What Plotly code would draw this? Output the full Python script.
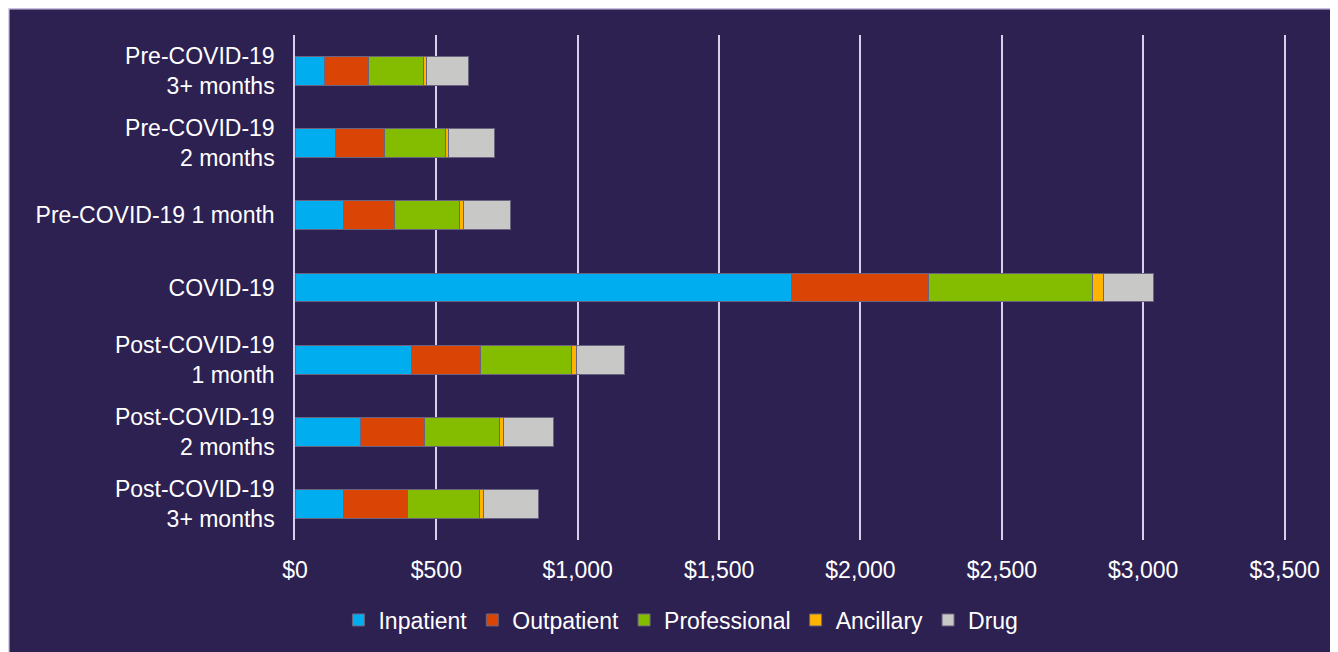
import plotly.graph_objects as go

categories = [
    "Pre-COVID-19<br>3+ months",
    "Pre-COVID-19<br>2 months",
    "Pre-COVID-19 1 month",
    "COVID-19",
    "Post-COVID-19<br>1 month",
    "Post-COVID-19<br>2 months",
    "Post-COVID-19<br>3+ months",
]

inpatient = [105, 143, 172, 1757, 411, 233, 172]
outpatient = [156, 174, 179, 484, 245, 224, 227]
professional = [193, 214, 231, 578, 321, 265, 253]
ancillary = [10, 11, 13, 41, 19, 17, 14]
drug = [151, 163, 167, 177, 168, 174, 196]

series = [
    ("Inpatient", inpatient, "#00AEEF"),
    ("Outpatient", outpatient, "#DA4505"),
    ("Professional", professional, "#84BC00"),
    ("Ancillary", ancillary, "#FFB500"),
    ("Drug", drug, "#C8C8C6"),
]

tick_vals = [0, 500, 1000, 1500, 2000, 2500, 3000, 3500]
tick_text = ["$0", "$500", "$1,000", "$1,500", "$2,000", "$2,500", "$3,000", "$3,500"]

BG = "#2D2152"
GRID = "#D8D0EA"
FONT = "Liberation Sans, Arial, sans-serif"

# page body has an 8px margin; figure fills the rest of the 1338x652 window
W, H = 1330, 644
L, R, T, B = 287, 50, 27, 112
pw = W - L - R
ph = H - T - B

fig = go.Figure()
for name, vals, color in series:
    fig.add_trace(go.Bar(
        y=categories, x=vals, name=name, orientation="h",
        marker=dict(color=color, line=dict(color="#6A6480", width=1)),
    ))

def px2x(px):
    return (px - L) / pw

def py2y(py):
    return (H - B - py) / ph

shapes = [
    dict(type="rect", xref="paper", yref="paper", x0=px2x(0), x1=px2x(W), y0=py2y(1.5), y1=py2y(0),
         fillcolor="#C9C1DF", line=dict(width=0), layer="above"),
    dict(type="rect", xref="paper", yref="paper", x0=px2x(0), x1=px2x(1.5), y0=py2y(H), y1=py2y(0),
         fillcolor="#D9D3E8", line=dict(width=0), layer="above"),
]

fig.update_layout(
    width=W, height=H,
    margin=dict(l=L, r=R, t=T, b=B),
    paper_bgcolor=BG, plot_bgcolor=BG,
    barmode="stack", bargap=0.6,
    font=dict(family=FONT, size=23, color="white"),
    xaxis=dict(
        range=[0, 3512], tickvals=tick_vals, ticktext=tick_text,
        showgrid=True, gridcolor=GRID, gridwidth=1.5,
        zeroline=False, showline=False, ticks="",
        ticklabelstandoff=14,
        tickfont=dict(size=23, color="white"),
    ),
    yaxis=dict(
        autorange="reversed", showgrid=False, zeroline=False, ticks="",
        showline=True, linecolor=GRID, linewidth=1.5,
        ticklabelstandoff=14,
        tickfont=dict(size=23, color="white"),
    ),
    legend=dict(
        orientation="h", xref="container", yref="container",
        x=0.506, xanchor="center", y=0.0497, yanchor="middle",
        font=dict(size=23, color="white"), bgcolor="rgba(0,0,0,0)",
        traceorder="normal", itemwidth=30,
    ),
    shapes=shapes,
)

fig.write_html("out.html")
